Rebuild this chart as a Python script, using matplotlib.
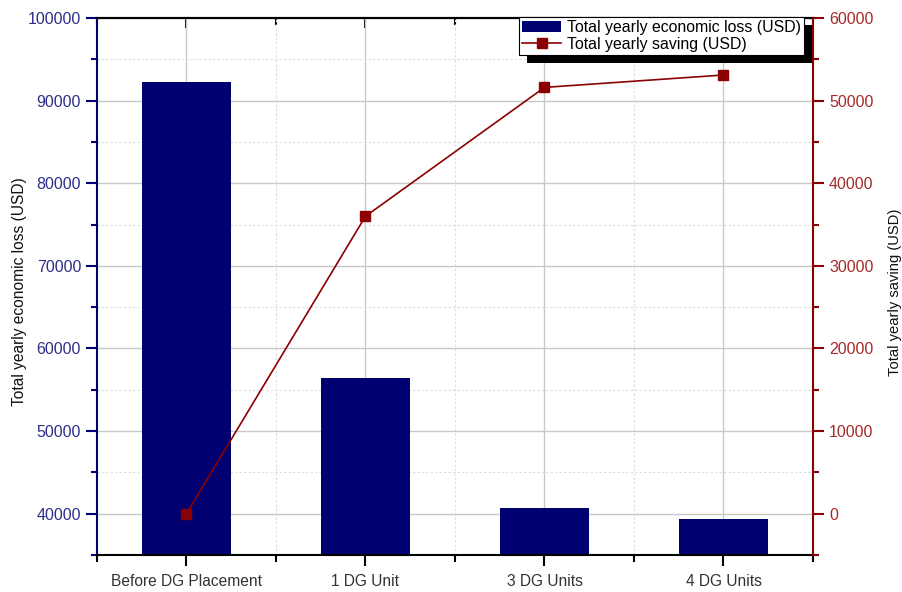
import matplotlib
matplotlib.use("Agg")
import matplotlib.pyplot as plt
from matplotlib.ticker import MultipleLocator
from matplotlib.patches import Rectangle
import numpy as np

categories = ["Before DG Placement", "1 DG Unit", "3 DG Units", "4 DG Units"]
loss = [92300, 56400, 40700, 39300]
saving = [0, 36000, 51600, 53100]

plt.rcParams['font.family'] = ['Liberation Sans', 'DejaVu Sans']

NAVY = "#000070"
RED = "#8b0000"
LTICK = "#2e2e8a"
RTICK = "#a52a2a"

fig = plt.figure(figsize=(9.03, 5.92), dpi=100)
ax = fig.add_axes([97/903, 1-555/592, (813-97)/903, (555-18)/592])
x = np.arange(len(categories))

ax.bar(x, loss, width=0.5, color=NAVY, zorder=2, label="Total yearly economic loss (USD)")
ax.set_xlim(-0.5, 3.5)
ax.set_ylim(35000, 100000)
ax.set_xticks(x)
ax.set_xticklabels(categories, fontsize=11.2, color="#333333")
ax.set_xticks(np.arange(-0.5, 3.6, 1), minor=True)
ax.set_yticks(np.arange(40000, 100001, 10000))
ax.yaxis.set_minor_locator(MultipleLocator(5000))
ax.tick_params(axis='y', which='major', colors=NAVY, labelcolor=LTICK, labelsize=11.5, length=8, width=1.5, direction='out')
ax.tick_params(axis='y', which='minor', colors=NAVY, length=4, width=1.5, direction='out')
ax.tick_params(axis='x', which='major', length=8, width=1.5, direction='out', colors='black', labelcolor="#333333", pad=6)
ax.tick_params(axis='x', which='minor', length=5, width=1.5, direction='out')
ax.set_ylabel("Total yearly economic loss (USD)", fontsize=11.2, color="#111111")
ax.yaxis.set_label_coords((27 - 97) / 716, 0.49)

# top axis ticks pointing inward
top = ax.secondary_xaxis('top')
top.set_xticks(x)
top.set_xticks(np.arange(-0.5, 3.6, 1), minor=True)
top.tick_params(which='major', direction='in', length=7, width=1.5, labeltop=False)
top.tick_params(which='minor', direction='in', length=5, width=1.5)
top.spines['top'].set_linewidth(1.5)

ax.grid(True, which='major', color="#c8c8c8", linewidth=1.0, zorder=0)
ax.grid(True, which='minor', color="#dcdcdc", linewidth=0.8, linestyle=(0, (2, 2)), zorder=0)
ax.set_axisbelow(True)

ax.spines['left'].set_color(NAVY)
ax.spines['left'].set_linewidth(1.5)
ax.spines['bottom'].set_linewidth(1.5)
ax.spines['top'].set_linewidth(1.5)
ax.spines['right'].set_visible(False)

ax2 = ax.twinx()
ax2.plot(x, saving, color=RED, linewidth=1.2, marker='s', markersize=7, zorder=3, label="Total yearly saving (USD)")
ax2.set_ylim(-5000, 60000)
ax2.set_yticks(np.arange(0, 60001, 10000))
ax2.yaxis.set_minor_locator(MultipleLocator(5000))
ax2.tick_params(axis='y', which='major', colors=RED, labelcolor=RTICK, labelsize=11.5, length=8, width=1.5, direction='out')
ax2.tick_params(axis='y', which='minor', colors=RED, length=4, width=1.5, direction='out')
ax2.spines['right'].set_color(RED)
ax2.spines['right'].set_linewidth(1.5)
ax2.spines['left'].set_visible(False)
ax2.spines['top'].set_visible(False)
ax2.spines['bottom'].set_visible(False)
ax2.set_ylabel("Total yearly saving (USD)", fontsize=10.6, color="#111111")
ax2.yaxis.set_label_coords((888 - 97) / 716, 0.49)

h1, l1 = ax.get_legend_handles_labels()
h2, l2 = ax2.get_legend_handles_labels()
leg = ax2.legend(h1 + h2, l1 + l2, loc='upper right', bbox_to_anchor=(0.9875, 1.002),
                 fontsize=11.4, frameon=True, fancybox=False, shadow=False,
                 borderpad=0.2, labelspacing=0.1, handlelength=2.5, handletextpad=0.35, borderaxespad=0)
leg.get_frame().set_edgecolor('black')
leg.get_frame().set_linewidth(0.8)
leg.get_frame().set_alpha(1.0)
leg.set_zorder(10)

fig.canvas.draw()
bb = leg.get_window_extent()
inv = ax2.transAxes.inverted()
(x0, y0), (x1, y1) = inv.transform([(bb.x0 + 8, bb.y0 - 8), (bb.x1 + 8, bb.y1 - 8)])
shadow = Rectangle((x0, y0), x1 - x0, y1 - y0, transform=ax2.transAxes,
                   facecolor='black', edgecolor='none', zorder=9, clip_on=False)
ax2.add_patch(shadow)

fig.savefig("out.png", dpi=100)
